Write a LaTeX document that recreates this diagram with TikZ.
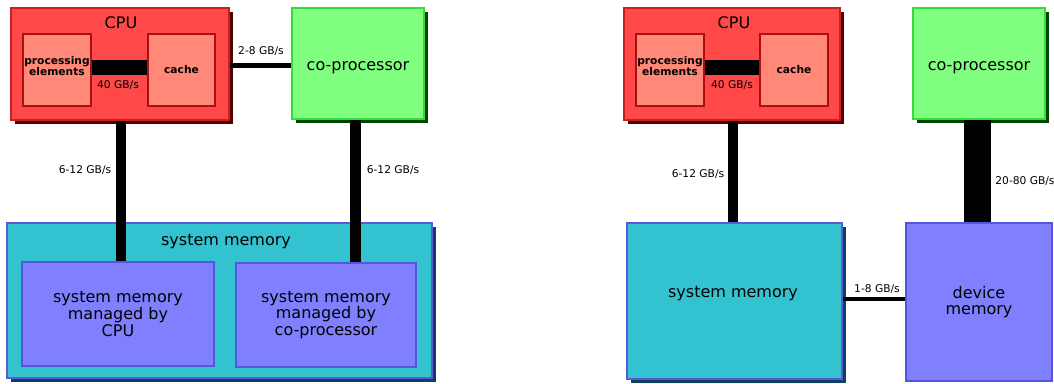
\documentclass[tikz,border=0pt]{standalone}
\usepackage{fontspec}
\setmainfont{DejaVu Sans}
\usetikzlibrary{shadows,calc}
\definecolor{cpuFill}{HTML}{FF4848}
\definecolor{cpuLine}{HTML}{C82020}
\definecolor{cpuShadow}{HTML}{550000}
\definecolor{inFill}{HTML}{FF8878}
\definecolor{inLine}{HTML}{AA1010}
\definecolor{gFill}{HTML}{80FF80}
\definecolor{gLine}{HTML}{33DD33}
\definecolor{gShadow}{HTML}{004400}
\definecolor{cFill}{HTML}{33C3D0}
\definecolor{cLine}{HTML}{5A5AD8}
\definecolor{cShadow}{HTML}{104060}
\definecolor{pFill}{HTML}{8080FF}
\definecolor{pLine}{HTML}{5555DD}
\def\u{0.75pt}
\tikzset{
  box/.style={draw, rectangle, inner sep=0pt, line width=1.5pt},
  shad/.style={drop shadow={opacity=1,fill=#1,shadow xshift=3pt,shadow yshift=-3pt}},
  cpubox/.style={box, fill=cpuFill, draw=cpuLine, shad=cpuShadow},
  infont/.style={font=\fontsize{8}{8.3}\selectfont\bfseries, align=center, inner sep=0pt},
  innerbox/.style={box, fill=inFill, draw=inLine, line width=1.8pt, infont},
  copbox/.style={box, fill=gFill, draw=gLine, shad=gShadow},
  smbox/.style={box, fill=cFill, draw=cLine, shad=cShadow},
  pbox/.style={box, fill=pFill, draw=pLine, font=\fontsize{12}{12.6}\selectfont, align=center},
  big/.style={font=\fontsize{12}{12.5}\selectfont, inner sep=0pt},
  small/.style={font=\fontsize{8}{9}\selectfont, inner sep=0pt},
  bar/.style={line width=#1*\u, draw=black},
}
\begin{document}
\begin{tikzpicture}[x=0.75pt,y=-0.75pt]
\useasboundingbox (0,0) rectangle (1054,383);
% ---------- left ----------
\node[cpubox, minimum width=218*\u, minimum height=112*\u] (cpuL) at (120,64) {};
\node[big] (cpuLt) at (121,23) {CPU};
\node[innerbox, minimum width=68*\u, minimum height=72*\u, label={[infont,yshift=3pt]center:processing\\elements}] (peL) at (57,70) {};
\node[innerbox, minimum width=67*\u, minimum height=72*\u] (cacheL) at (181.5,70) {cache};
\draw[bar=15] ($(peL.east)+(0,-3)$) -- ($(cacheL.west)+(0,-3)$);
\node[small] (bwL1) at (118,85) {40 GB/s};
\node[copbox, minimum width=132*\u, minimum height=111*\u, label={[big,yshift=-3.5pt]center:co-processor}] (copL) at (358,63.5) {};
\draw[bar=5] (cpuL.east |- 0,65) -- (copL.west |- 0,65);
\node[small] (bwL2) at (261,51) {2-8 GB/s};
\node[smbox, minimum width=425*\u, minimum height=155*\u] (smL) at (219.5,300.5) {};
\node[big] (smLt) at (226,242) {system memory};
\node[pbox, minimum width=192*\u, minimum height=104*\u] (mL1) at (118,314) {system memory\\managed by\\CPU};
\node[pbox, minimum width=180*\u, minimum height=104*\u] (mL2) at (326,315) {system memory\\managed by\\co-processor};
\draw[bar=10] (121,0 |- cpuL.south) coordinate (c1) -- (c1 |- mL1.north);
\draw[bar=11] (355.5,0 |- copL.south) coordinate (c2) -- (c2 |- mL2.north);
\node[small] (bwL3) at (85,170) {6-12 GB/s};
\node[small] (bwL4) at (393,170) {6-12 GB/s};
% ---------- right ----------
\node[cpubox, minimum width=216*\u, minimum height=112*\u] (cpuR) at (732,64) {};
\node[big] (cpuRt) at (734,23) {CPU};
\node[innerbox, minimum width=68*\u, minimum height=72*\u, label={[infont,yshift=3pt]center:processing\\elements}] (peR) at (670,70) {};
\node[innerbox, minimum width=68*\u, minimum height=72*\u] (cacheR) at (794,70) {cache};
\draw[bar=15] ($(peR.east)+(0,-3)$) -- ($(cacheR.west)+(0,-3)$);
\node[small] (bwR1) at (732,85) {40 GB/s};
\node[copbox, minimum width=132*\u, minimum height=111*\u, label={[big,yshift=-3.5pt]center:co-processor}] (copR) at (979,63.5) {};
\node[smbox, minimum width=215*\u, minimum height=156*\u] (smR) at (734.5,301) {};
\node[big] (smRt) at (733,294) {system memory};
\node[pbox, minimum width=146*\u, minimum height=158*\u] (devR) at (979,302) {device\\memory};
\draw[bar=10] (733,0 |- cpuR.south) coordinate (c3) -- (c3 |- smR.north);
\draw[bar=27] (977.5,0 |- copR.south) coordinate (c4) -- (c4 |- devR.north);
\draw[bar=3.5] (smR.east |- 0,299) -- (devR.west |- 0,299);
\node[small] (bwR2) at (698,174) {6-12 GB/s};
\node[small] (bwR3) at (1025,181) {20-80 GB/s};
\node[small] (bwR4) at (877,289) {1-8 GB/s};
\end{tikzpicture}
\end{document}
